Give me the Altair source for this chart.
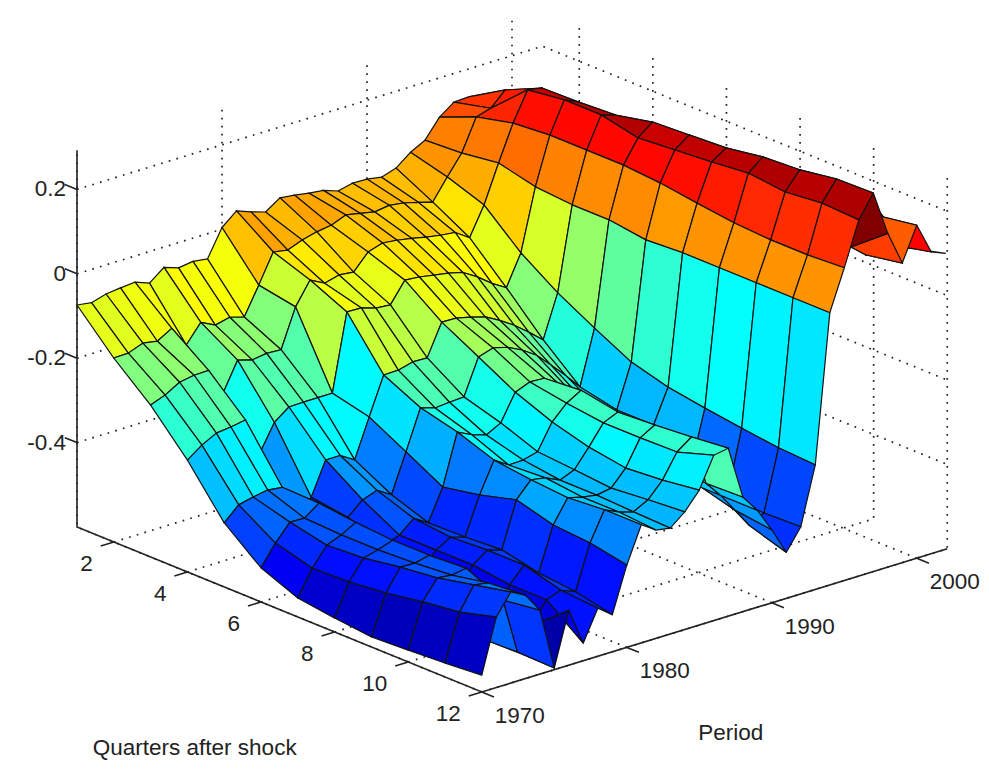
import altair as alt

periods = list(range(1970, 2003))
quarters = list(range(1, 13))

z_q1 = [-.074,-.079,-.069,-.065,-.062,-.075,-.048,-.060,-.055,-.060,.004,.033,.020,.009,.032,.028,.022,.018,.006,.014,.013,.007,.018,.045,.063,.107,.132,.134,.123,.108,.05,.04,.03]
z_q2 = [-.164,-.163,-.150,-.156,-.136,-.186,-.143,-.160,-.152,-.162,-.097,-.029,-.035,-.022,-.013,-.008,.006,-.001,-.008,-.003,-.008,-.017,-.027,.022,.068,.143,.153,.186,.161,.12,.10,.08,.08]
z_q3 = [-.240,-.227,-.207,-.201,-.200,-.264,-.197,-.207,-.202,-.204,-.113,-.060,-.078,-.069,-.073,-.036,-.025,-.029,-.035,-.043,-.049,-.053,-.076,-.009,.080,.164,.232,.226,.187,.13,.10,.09,.09]
z_q4 = [-.335,-.31,-.292,-.288,-.282,-.371,-.309,-.283,-.282,-.282,-.282,-.10,-.101,-.112,-.115,-.067,-.07,-.076,-.082,-.091,-.112,-.138,-.159,-.087,.059,.171,.244,.228,.18,.14,.12,.10,.10]
z_q5 = [-.448,-.416,-.408,-.402,-.406,-.482,-.451,-.373,-.373,-.394,-.303,-.214,-.213,-.204,-.205,-.131,-.132,-.14,-.15,-.169,-.191,-.218,-.247,-.146,.052,.171,.244,.233,.18,.14,.12,.10,.10]
z_q6 = [-.519,-.471,-.432,-.433,-.408,-.506,-.463,-.432,-.42,-.441,-.35,-.256,-.267,-.264,-.262,-.178,-.167,-.176,-.193,-.216,-.25,-.285,-.323,-.194,.052,.171,.225,.252,.20,.15,.13,.12,.12]
z_q7 = [-.555,-.495,-.451,-.437,-.418,-.53,-.493,-.48,-.451,-.472,-.398,-.278,-.295,-.306,-.288,-.226,-.212,-.214,-.238,-.273,-.309,-.337,-.342,-.239,.04,.164,.232,.257,.22,.17,.15,.14,.13]
z_q8 = [-.567,-.492,-.446,-.437,-.425,-.553,-.517,-.48,-.46,-.47,-.381,-.309,-.331,-.33,-.321,-.261,-.227,-.207,-.245,-.287,-.328,-.356,-.342,-.263,.045,.152,.239,.262,.24,.18,.16,.15,.14]
z_q9 = [-.576,-.483,-.432,-.433,-.425,-.57,-.529,-.48,-.455,-.465,-.357,-.32,-.326,-.342,-.328,-.285,-.238,-.223,-.288,-.335,-.368,-.399,-.413,-.277,.045,.141,.248,.276,.25,.20,.17,.16,.15]
z_q10 = [-.572,-.468,-.422,-.426,-.42,-.596,-.545,-.491,-.455,-.484,-.381,-.327,-.336,-.342,-.336,-.299,-.238,-.218,-.324,-.37,-.392,-.408,-.441,-.289,.045,.136,.239,.281,.26,.21,.18,.16,.15]
z_q11 = [-.567,-.457,-.403,-.409,-.46,-.594,-.541,-.491,-.479,-.493,-.388,-.32,-.336,-.346,-.328,-.292,-.236,-.211,-.331,-.37,-.416,-.463,-.444,-.30,.045,.136,.248,.295,.123,.094,.175,.096,.078]
z_q12 = [-.56,-.433,-.384,-.402,-.448,-.596,-.47,-.558,-.486,-.512,-.405,-.32,-.343,-.349,-.321,-.28,-.208,-.202,-.328,-.37,-.427,-.491,-.441,-.305,.045,.141,.244,.297,.191,.11,.189,.115,.101]
surface = [z_q1, z_q2, z_q3, z_q4, z_q5, z_q6, z_q7, z_q8, z_q9, z_q10, z_q11, z_q12]

z_ticks = [0.2, 0.0, -0.2, -0.4]
z_tick_labels = ["0.2", "0", "-0.2", "-0.4"]
q_ticks = [2, 4, 6, 8, 10, 12]
p_ticks = [1970, 1980, 1990, 2000]

P0, P1 = 1970.0, 2002.1
Q0, Q1 = 1.0, 12.0
Z0, Z1 = -0.6, 0.293


def project(p, q, z):
    x = 77 + 14.5 * (p - P0) + 36.8 * (q - Q0)
    y = 527 - 4.46 * (p - P0) + 15.0 * (q - Q0) - 422 * (z - Z0)
    return [round(x, 2), round(y, 2)]


def line(*pts):
    return {"type": "Feature", "properties": {},
            "geometry": {"type": "LineString", "coordinates": [project(*a) for a in pts]}}


cells = []
for i in range(len(periods) - 2, -1, -1):
    for j in range(len(quarters) - 1):
        ring = [
            project(periods[i], quarters[j], surface[j][i]),
            project(periods[i + 1], quarters[j], surface[j][i + 1]),
            project(periods[i + 1], quarters[j + 1], surface[j + 1][i + 1]),
            project(periods[i], quarters[j + 1], surface[j + 1][i]),
        ]
        ring.append(ring[0])
        cells.append({"type": "Feature", "properties": {"z": surface[j][i]},
                      "geometry": {"type": "Polygon", "coordinates": [ring]}})

grid = []
for z in z_ticks:
    grid.append(line((P0, Q0, z), (P1, Q0, z), (P1, Q1, z)))
for p in p_ticks:
    grid.append(line((p, Q1, Z0), (p, Q0, Z0), (p, Q0, Z1)))
for q in q_ticks:
    grid.append(line((P0, q, Z0), (P1, q, Z0), (P1, q, Z1)))

axes = [line((P0, Q0, Z1), (P0, Q0, Z0), (P0, Q1, Z0), (P1, Q1, Z0))]
for z in z_ticks:
    axes.append(line((P0, Q0, z), (P0, Q0 - 0.33, z)))
for q in q_ticks:
    axes.append(line((P0, q, Z0), (P0 - 0.9, q, Z0)))
for p in p_ticks:
    axes.append(line((p, Q1, Z0), (p, Q1 + 0.33, Z0)))

jet_stops = [0, 0.125, 0.375, 0.625, 0.875, 1]
jet_colors = ["#00008f", "#0000ff", "#00ffff", "#ffff00", "#ff0000", "#800000"]
C0, C1 = -0.62, 0.29
scale = alt.Scale(domain=[C0 + s * (C1 - C0) for s in jet_stops], range=jet_colors,
                  clamp=True, interpolate="rgb")

proj = dict(type="identity", scale=1, translate=[-8, -8])


def shapes(values):
    return alt.Chart(alt.Data(values=values))


def texts(rows, **kw):
    return alt.Chart(alt.Data(values=rows)).mark_text(
        font="Liberation Sans", color="#222222", fontSize=22.5, baseline="middle", **kw
    ).encode(longitude="x:Q", latitude="y:Q", text="t:N").project(**proj)


def lab(t, pos):
    return {"t": t, "x": pos[0], "y": pos[1]}


grid_layer = shapes(grid).mark_geoshape(filled=False, stroke="#222222", strokeWidth=1.7,
                                        strokeDash=[1.7, 6.3]).project(**proj)
axis_layer = shapes(axes).mark_geoshape(filled=False, stroke="#222222", strokeWidth=1.6).project(**proj)
surf_layer = shapes(cells).mark_geoshape(stroke="#111111", strokeWidth=1.2).encode(
    color=alt.Color("properties.z:Q", scale=scale, legend=None)
).project(**proj)

corner = project(P0, Q1, Z0)
z_labels = texts([lab(t, project(P0, Q0, z)) for t, z in zip(z_tick_labels, z_ticks)],
                 align="right", dx=-11)
q_labels = texts([lab(str(q), project(P0, q, Z0)) for q in q_ticks],
                 align="right", dx=-21, dy=22)
p_labels = texts([lab(str(p), project(p, Q1, Z0)) for p in p_ticks],
                 align="left", dx=13, dy=24)
q_title = texts([lab("Quarters after shock", corner)], align="left", dx=-389, dy=56)
p_title = texts([lab("Period", corner)], align="center", dx=249, dy=41)

chart = alt.layer(
    grid_layer, axis_layer, surf_layer, z_labels, q_labels, p_labels, q_title, p_title
).properties(
    width=973, height=753, padding=0, background="white",
    autosize=alt.AutoSizeParams(type="none"),
).configure_view(stroke=None)

chart.save("out.html", embed_options={"renderer": "svg", "actions": False})
